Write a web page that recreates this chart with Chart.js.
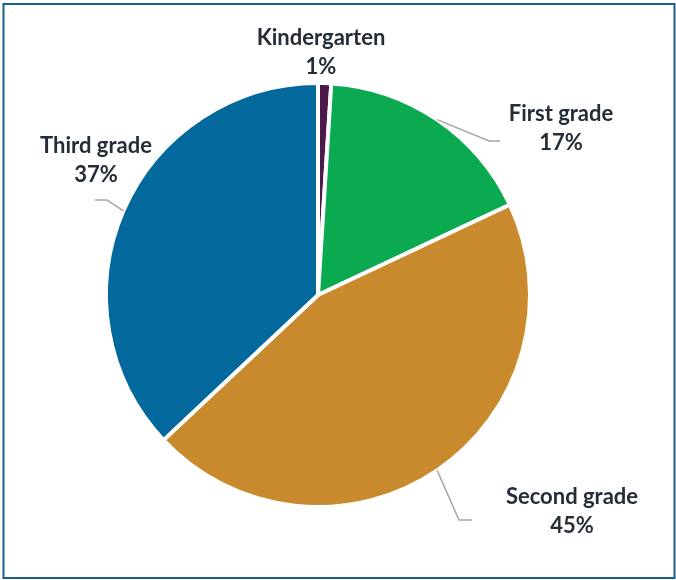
<!DOCTYPE html>
<html>
<head>
<meta charset="utf-8">
<script src="https://cdn.jsdelivr.net/npm/chart.js@4/dist/chart.umd.min.js"></script>
<style>
html,body{margin:0;padding:0;background:#fff;}
#wrap{position:relative;width:676px;height:580px;}
</style>
</head>
<body>
<div id="wrap"><canvas id="c" width="676" height="580"></canvas></div>
<script>
const categories = ["Kindergarten", "First grade", "Second grade", "Third grade"];
const shares = [1, 17, 45, 37];
const sliceColors = ["#4B1A4B", "#0BAA50", "#C88A2D", "#03699D"];

// label layout: block centre offset from pie centre (px), and leader line points relative to label centre
const labelLayout = [
  {dx: 3,   dy: -243, leader: null},
  {dx: 243, dy: -167, leader: [[-61, 13], [-72, 13]]},
  {dx: 254, dy: 216,  leader: [[-100, 9], [-113, 9]]},
  {dx: -222, dy: -135, leader: [[-1, 40], [11, 40]]}
];

const framePlugin = {
  id: 'frame',
  beforeDraw(chart) {
    const ctx = chart.ctx;
    ctx.save();
    ctx.fillStyle = '#ffffff';
    ctx.fillRect(0, 0, chart.width, chart.height);
    ctx.strokeStyle = '#1B5E8C';
    ctx.lineWidth = 2;
    ctx.strokeRect(3.5, 4, 671, 574);
    ctx.restore();
  }
};

const labelPlugin = {
  id: 'pieLabels',
  afterDatasetsDraw(chart) {
    const ctx = chart.ctx;
    const meta = chart.getDatasetMeta(0);
    ctx.save();
    meta.data.forEach((arc, i) => {
      const p = arc.getProps(['x', 'y', 'startAngle', 'endAngle', 'outerRadius'], true);
      const lay = labelLayout[i];
      const lx = p.x + lay.dx, ly = p.y + lay.dy;
      if (lay.leader) {
        const mid = (p.startAngle + p.endAngle) / 2;
        const sx = p.x + Math.cos(mid) * (p.outerRadius);
        const sy = p.y + Math.sin(mid) * (p.outerRadius);
        ctx.strokeStyle = '#A6A6A6';
        ctx.lineWidth = 1.5;
        ctx.beginPath();
        ctx.moveTo(sx, sy);
        ctx.lineTo(lx + lay.leader[1][0], ly + lay.leader[1][1]);
        ctx.lineTo(lx + lay.leader[0][0], ly + lay.leader[0][1]);
        ctx.stroke();
      }
      ctx.fillStyle = '#252D38';
      ctx.font = 'bold 22px Lato';
      ctx.textAlign = 'center';
      ctx.textBaseline = 'middle';
      ctx.fillText(categories[i], lx, ly - 14.5);
      ctx.fillText(shares[i] + '%', lx, ly + 14.5);
    });
    ctx.restore();
  }
};

new Chart(document.getElementById('c'), {
  type: 'pie',
  data: {
    labels: categories,
    datasets: [{
      data: shares,
      backgroundColor: sliceColors,
      borderColor: '#ffffff',
      borderWidth: 4
    }]
  },
  options: {
    responsive: false,
    animation: false,
    layout: {padding: {left: 104, top: 81, right: 144, bottom: 71}},
    plugins: {legend: {display: false}, tooltip: {enabled: false}}
  },
  plugins: [framePlugin, labelPlugin]
});
</script>
</body>
</html>
